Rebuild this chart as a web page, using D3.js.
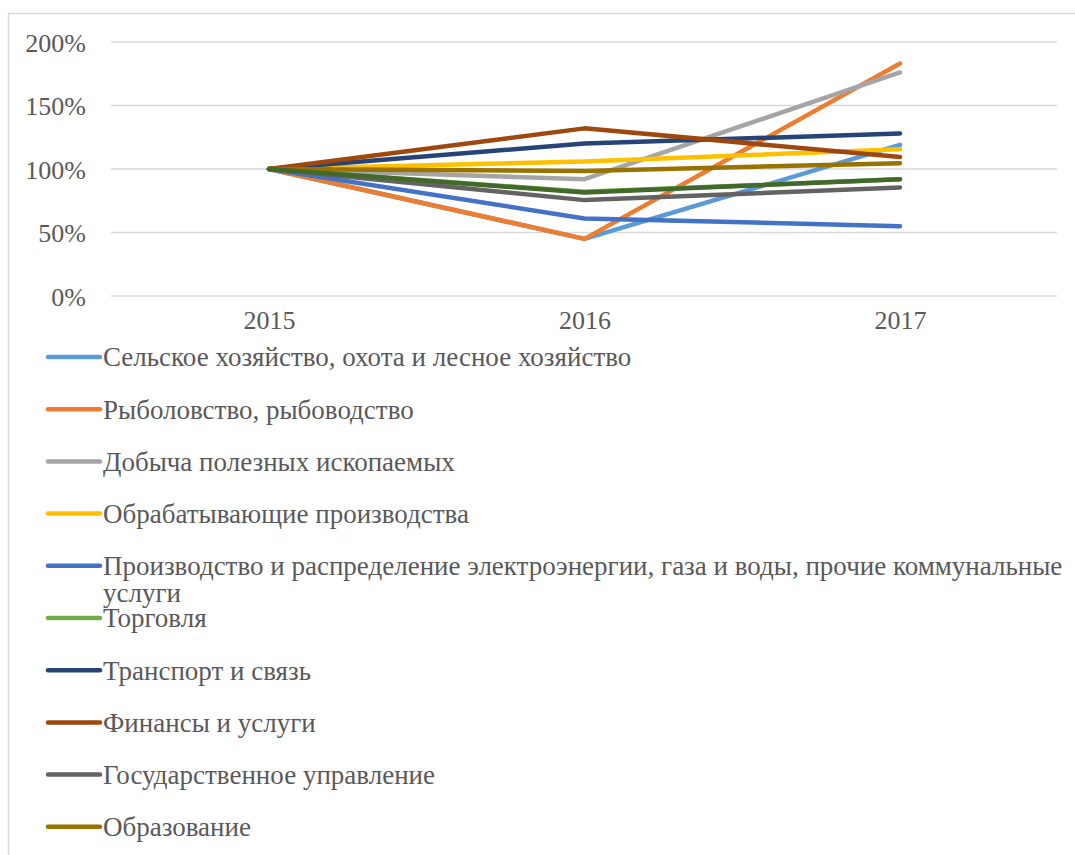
<!DOCTYPE html>
<html><head><meta charset="utf-8">
<script src="https://cdn.jsdelivr.net/npm/d3@7"></script>
<style>body{margin:0;background:#fff}svg{display:block}
svg text{font-family:"Liberation Serif","Times New Roman","DejaVu Serif",serif;}</style>
</head><body>
<svg id="c" width="1075" height="855"></svg>
<script>
const years = ["2015","2016","2017"];
const yTicks = [0, 0.5, 1, 1.5, 2];
const seriesNames = [
  "Сельское хозяйство, охота и лесное хозяйство",
  "Рыболовство, рыбоводство",
  "Добыча полезных ископаемых",
  "Обрабатывающие производства",
  "Производство и распределение электроэнергии, газа и воды, прочие коммунальные услуги",
  "Торговля",
  "Транспорт и связь",
  "Финансы и услуги",
  "Государственное управление",
  "Образование",
  "Здравоохранение"
];
const agri      = [1.00, 0.45, 1.19];
const fish      = [1.00, 0.45, 1.83];
const mining    = [1.00, 0.92, 1.76];
const manuf     = [1.00, 1.06, 1.155];
const utilities = [1.00, 0.61, 0.55];
const trade     = [1.00, 0.82, 0.92];
const transport = [1.00, 1.20, 1.28];
const finance   = [1.00, 1.32, 1.095];
const govt      = [1.00, 0.755, 0.855];
const education = [1.00, 0.985, 1.045];
const health    = [1.00, 0.815, 0.92];
const seriesValues = [agri, fish, mining, manuf, utilities, trade, transport, finance, govt, education, health];
const colors = ["#5B9BD5","#ED7D31","#A5A5A5","#FFC000","#4472C4","#70AD47","#264478","#9E480E","#636363","#997300","#43682B"];
const visibleLegend = 10; // the rest of the legend is clipped by the chart's frame

const svg = d3.select("#c");
svg.append("rect").attr("x",8.5).attr("y",13.5).attr("width",1080).attr("height",900)
  .attr("fill","none").attr("stroke","#d9d9d9").attr("stroke-width",1.5);

const x = d3.scalePoint().domain(years).range([269, 900]);
const y = d3.scaleLinear().domain([0, 2]).range([296, 42]);

svg.append("g").selectAll("line").data(yTicks).join("line")
  .attr("x1",111).attr("x2",1057).attr("y1",d=>y(d)).attr("y2",d=>y(d))
  .attr("stroke","#d9d9d9").attr("stroke-width",1.5);

const yAxis = d3.axisLeft(y).tickValues(yTicks).tickFormat(d3.format(".0%")).tickSize(0).tickPadding(0);
const gy = svg.append("g").attr("transform","translate(86,0)").call(yAxis);
gy.select(".domain").remove();
gy.selectAll("text").attr("font-size",26).attr("fill","#595959").attr("dy","0.35em");

const xAxis = d3.axisBottom(x).tickSize(0).tickPadding(0);
const gx = svg.append("g").attr("transform","translate(0,311)").call(xAxis);
gx.select(".domain").remove();
gx.selectAll("text").attr("font-size",26).attr("fill","#595959").attr("dy","0.71em");
svg.selectAll("g").attr("font-family",null);

const line = d3.line().x((d,i)=>x(years[i])).y(d=>y(d));
svg.append("g").selectAll("path").data(seriesValues).join("path")
  .attr("d", d=>line(d)).attr("fill","none")
  .attr("stroke",(d,i)=>colors[i]).attr("stroke-width",4.5)
  .attr("stroke-linecap","round").attr("stroke-linejoin","round");

const lg = svg.append("g");
const maxW = 975;
seriesNames.slice(0, visibleLegend).forEach((name,i)=>{
  const yy = 357 + i*52.2;
  lg.append("line").attr("x1",48).attr("x2",100).attr("y1",yy).attr("y2",yy)
    .attr("stroke",colors[i]).attr("stroke-width",4.5).attr("stroke-linecap","round");
  const t = lg.append("text").attr("x",103).attr("y",yy).attr("dy","0.35em")
    .attr("font-size",27).attr("fill","#595959");
  const words = name.split(" ");
  let cur = [];
  let ts = t.append("tspan").attr("x",103);
  words.forEach(w=>{
    cur.push(w);
    ts.text(cur.join(" "));
    if (ts.node().getComputedTextLength() > maxW && cur.length>1) {
      cur.pop(); ts.text(cur.join(" "));
      cur = [w];
      ts = t.append("tspan").attr("x",103).attr("dy","1.0em").text(w);
    }
  });
});
</script>
</body></html>
